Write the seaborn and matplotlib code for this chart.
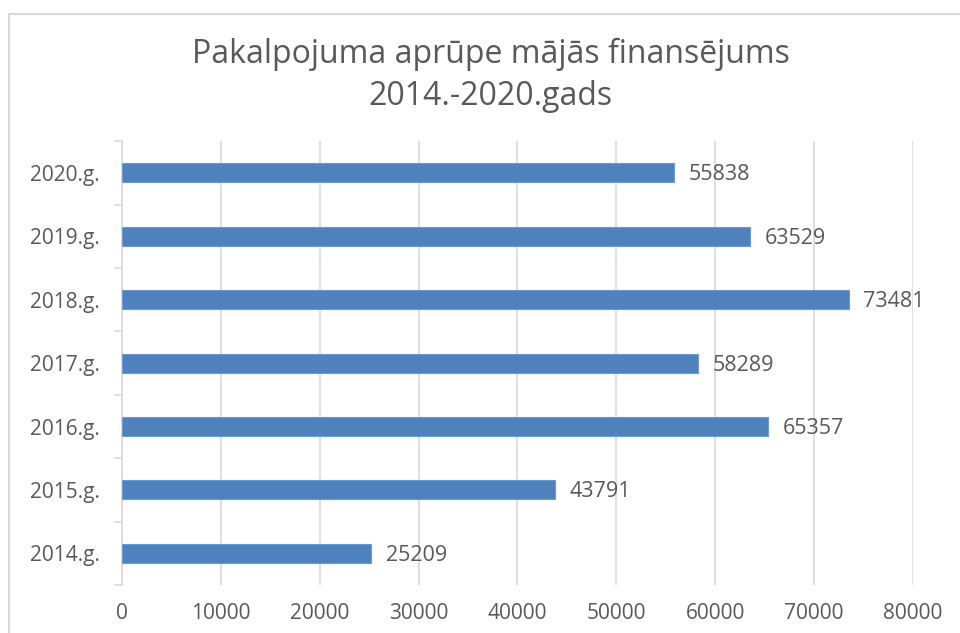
import matplotlib
matplotlib.use('Agg')
import matplotlib.pyplot as plt
import seaborn as sns
import pandas as pd
from matplotlib.patches import Rectangle

# data
years = ['2020.g.', '2019.g.', '2018.g.', '2017.g.', '2016.g.', '2015.g.', '2014.g.']
values = [55838, 63529, 73481, 58289, 65357, 43791, 25209]
xticks = [0, 10000, 20000, 30000, 40000, 50000, 60000, 70000, 80000]

df = pd.DataFrame({'year': years, 'value': values})

sns.set_theme(style='white')
plt.rcParams['font.family'] = ['Open Sans', 'DejaVu Sans']

grey = '#595959'
fig = plt.figure(figsize=(9.6, 6.33), dpi=100)
ax = fig.add_axes([0.127, 0.0758, 0.824, 0.701])

sns.barplot(data=df, x='value', y='year', order=years, orient='h',
            color='#4F81BD', width=0.3, edgecolor='#6C9AD2', linewidth=0.8,
            saturation=1, ax=ax, zorder=3)

ax.set_xlim(0, 80000)
ax.set_ylim(len(years) - 0.5, -0.5)
ax.set_xticks(xticks)
ax.set_xticklabels([str(t) for t in xticks])
ax.grid(axis='x', color='#D9D9D9', linewidth=1.2, zorder=0)
ax.set_xlabel('')
ax.set_ylabel('')

for s in ['top', 'right', 'bottom']:
    ax.spines[s].set_visible(False)
ax.spines['left'].set_color('#D9D9D9')
ax.spines['left'].set_linewidth(1.2)

# tick marks between categories on the y axis
ax.set_yticks(range(len(years)))
ax.set_yticklabels(years)
ax.set_yticks([i - 0.5 for i in range(len(years) + 1)], minor=True)
ax.tick_params(axis='y', which='major', length=0, pad=16, labelsize=15, labelcolor=grey)
ax.tick_params(axis='y', which='minor', left=True, length=6, color='#D9D9D9', width=1.2)
ax.tick_params(axis='x', length=0, pad=13, labelsize=15, labelcolor=grey)

for i, v in enumerate(values):
    ax.text(v + 1500, i + 0.03, str(v), va='center', ha='left', fontsize=15.5, color=grey)

fig.text(0.511, 0.881, 'Pakalpojuma aprūpe mājās finansējums\n2014.-2020.gads',
         ha='center', va='center', fontsize=23, color=grey, linespacing=1.35)

# chart border
fig.patches.append(Rectangle((9 / 960, -0.1), 1.2, 1 - 14 / 633 + 0.1,
                             transform=fig.transFigure, fill=False,
                             edgecolor='#D9D9D9', linewidth=1.5))

plt.savefig('out.png', dpi=100)
